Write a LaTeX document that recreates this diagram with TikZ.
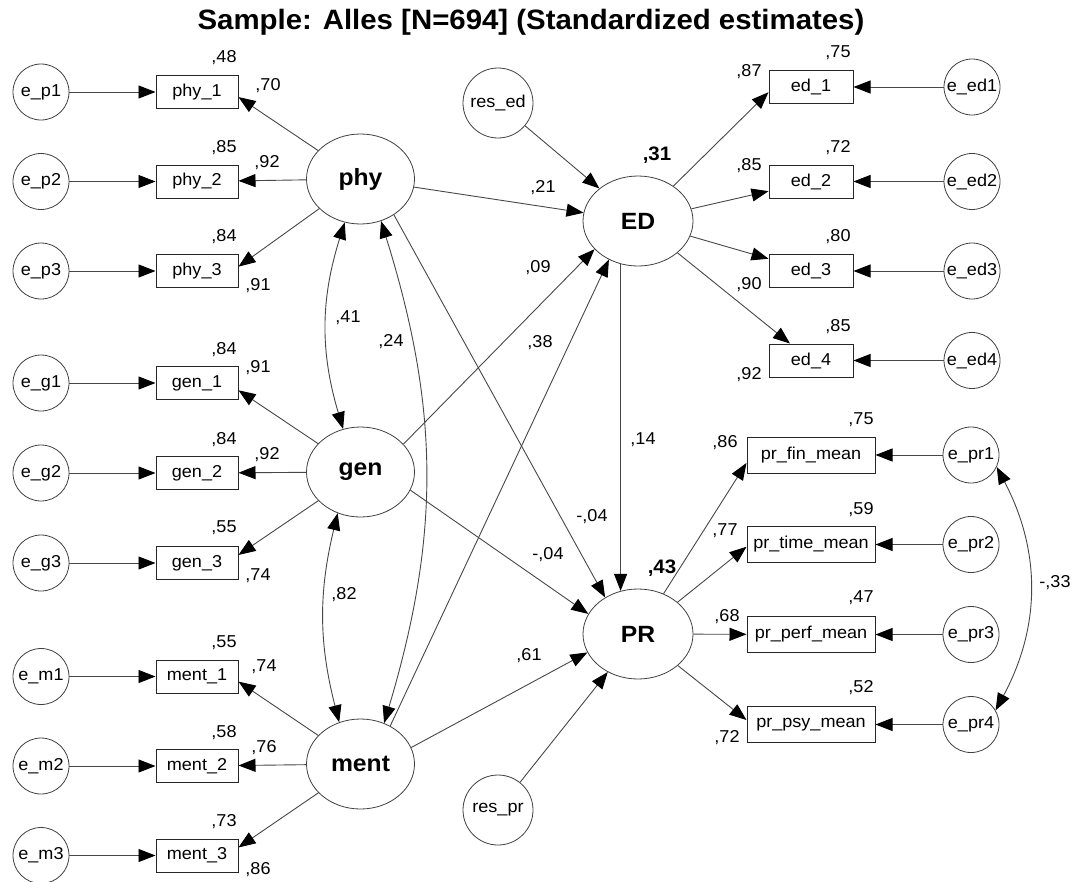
\documentclass[tikz,border=0pt]{standalone}
\usepackage{fontspec}
\setmainfont[FakeStretch=1.05]{Liberation Sans}
\usetikzlibrary{arrows.meta,shapes.geometric}
\begin{document}
\begin{tikzpicture}[x=1pt,y=-1pt,
  every node/.style={font=\fontsize{17.2}{19}\selectfont},
  tipx/.tip={Triangle[length=17pt,width=13pt,black]},
  lnk/.style={draw=black!72, line width=0.9pt, -tipx},
  cov/.style={draw=black!72, line width=0.9pt, tipx-tipx},
  obs/.style={draw=black!85, line width=1pt, rectangle, minimum width=82pt, minimum height=33pt, inner sep=0pt},
  obsr/.style={obs, minimum width=84pt},
  obsw/.style={obs, minimum width=128pt, minimum height=36pt},
  err/.style={draw=black!75, line width=0.8pt, circle, minimum size=56pt, inner sep=0pt},
  res/.style={err, minimum size=70pt},
  lat/.style={draw=black!75, line width=0.8pt, ellipse, minimum width=108pt, minimum height=90pt, inner sep=0pt, font=\fontsize{23.5}{27}\selectfont\bfseries},
  latr/.style={lat, minimum width=110pt},
  lbl/.style={inner sep=0pt},
  rsq/.style={inner sep=0pt, font=\fontsize{19.5}{23}\selectfont\bfseries}
]
\useasboundingbox (0,0) rectangle (1075,881);

\node[lbl, font=\fontsize{28}{31}\selectfont\bfseries] (title) at (531,22) {Sample: Alles [N=694] (Standardized estimates)};

% left error circles
\node[err] (ep1) at (41,92) {e\_p1};
\node[err] (ep2) at (41,181.5) {e\_p2};
\node[err] (ep3) at (41,271) {e\_p3};
\node[err] (eg1) at (41,383) {e\_g1};
\node[err] (eg2) at (41,473) {e\_g2};
\node[err] (eg3) at (41,563) {e\_g3};
\node[err] (em1) at (41,676.5) {e\_m1};
\node[err] (em2) at (41,766) {e\_m2};
\node[err] (em3) at (41,855.5) {e\_m3};

% left indicators
\node[obs] (phy1) at (197,92) {phy\_1};
\node[obs] (phy2) at (197,181.5) {phy\_2};
\node[obs] (phy3) at (197,271) {phy\_3};
\node[obs] (gen1) at (197,383) {gen\_1};
\node[obs] (gen2) at (197,473) {gen\_2};
\node[obs] (gen3) at (197,563) {gen\_3};
\node[obs] (ment1) at (197,676.5) {ment\_1};
\node[obs] (ment2) at (197,766) {ment\_2};
\node[obs] (ment3) at (197,855.5) {ment\_3};

% latent
\node[lat] (phy) at (360.5,179) {phy};
\node[lat] (gen) at (360.5,472) {gen};
\node[lat] (ment) at (360.5,764) {ment};
\node[latr] (ED) at (638,221) {ED};
\node[latr] (PR) at (638,634) {PR};
\node[res] (resed) at (498,103) {res\_ed};
\node[res] (respr) at (498,810) {res\_pr};

% right indicators
\node[obsr] (ed1) at (811,87) {ed\_1};
\node[obsr] (ed2) at (811,181.5) {ed\_2};
\node[obsr] (ed3) at (811,271) {ed\_3};
\node[obsr] (ed4) at (811,360.5) {ed\_4};
\node[obsw] (prfin) at (811,455) {pr\_fin\_mean};
\node[obsw] (prtime) at (811,544.5) {pr\_time\_mean};
\node[obsw] (prperf) at (811,634.5) {pr\_perf\_mean};
\node[obsw] (prpsy) at (811,724.5) {pr\_psy\_mean};

\node[err] (eed1) at (972,87) {e\_ed1};
\node[err] (eed2) at (972,181.5) {e\_ed2};
\node[err] (eed3) at (972,271) {e\_ed3};
\node[err] (eed4) at (972,360.5) {e\_ed4};
\node[err] (epr1) at (971,455) {e\_pr1};
\node[err] (epr2) at (971,544.5) {e\_pr2};
\node[err] (epr3) at (971,634.5) {e\_pr3};
\node[err] (epr4) at (971,724.5) {e\_pr4};

% error -> indicator
\foreach \a/\b in {ep1/phy1,ep2/phy2,ep3/phy3,eg1/gen1,eg2/gen2,eg3/gen3,em1/ment1,em2/ment2,em3/ment3,
  eed1/ed1,eed2/ed2,eed3/ed3,eed4/ed4,epr1/prfin,epr2/prtime,epr3/prperf,epr4/prpsy}
  \draw[lnk] (\a) -- (\b);

% loadings
\draw[lnk] (phy) -- (phy1.-7);
\draw[lnk] (phy) -- (phy2);
\draw[lnk] (phy) -- (phy3.6);
\draw[lnk] (gen) -- (gen1.-10);
\draw[lnk] (gen) -- (gen2);
\draw[lnk] (gen) -- (gen3.11);
\draw[lnk] (ment) -- (ment1.-7);
\draw[lnk] (ment) -- (ment2);
\draw[lnk] (ment) -- (ment3.11);
\draw[lnk] (ED) -- (ed1.187);
\draw[lnk] (ED) -- (ed2);
\draw[lnk] (ED) -- (ed3);
\draw[lnk] (ED) -- (ed4);
\draw[lnk] (PR) -- (prfin.187);
\draw[lnk] (PR) -- (prtime.182);
\draw[lnk] (PR) -- (prperf);
\draw[lnk] (PR) -- (prpsy.176);

% structural paths
\draw[lnk] (resed) -- (ED);
\draw[lnk] (phy) -- (ED);
\draw[lnk] (gen.33) -- (ED.213);
\draw[lnk] (ment.52) -- (ED.233);
\draw[lnk] (phy.313) -- (PR.132);
\draw[lnk] (gen.340) -- (PR.158);
\draw[lnk] (ment.18) -- (PR.200);
\draw[lnk] (respr) -- (PR);
\draw[lnk] (ED.248) -- (PR.112);

% covariances
\draw[cov] (phy.250) to[bend right=17] (gen.112);
\draw[cov] (gen.241) to[bend right=14] (ment.117);
\draw[cov] (phy.296) to[bend left=17] (ment.60);
\draw[cov] (epr1.-25) to[bend left=28] (epr4.30);

% coefficient labels
\node[lbl] (l1) at (224,58) {,48};
\node[lbl] (l2) at (268,86) {,70};
\node[lbl] (l3) at (224,148) {,85};
\node[lbl] (l4) at (267,163) {,92};
\node[lbl] (l5) at (224,237) {,84};
\node[lbl] (l6) at (258,286) {,91};
\node[lbl] (l7) at (224,350) {,84};
\node[lbl] (l8) at (258,368) {,91};
\node[lbl] (l9) at (224,440) {,84};
\node[lbl] (l10) at (267,455) {,92};
\node[lbl] (l11) at (224,528) {,55};
\node[lbl] (l12) at (258,576) {,74};
\node[lbl] (l13) at (224,643) {,55};
\node[lbl] (l14) at (264,667) {,74};
\node[lbl] (l15) at (224,733) {,58};
\node[lbl] (l16) at (264,748) {,76};
\node[lbl] (l17) at (224,822) {,73};
\node[lbl] (l18) at (258,870) {,86};
\node[lbl] (l19) at (348,318) {,41};
\node[lbl] (l20) at (391,342) {,24};
\node[lbl] (l21) at (344,595) {,82};
\node[lbl] (l22) at (543,188) {,21};
\node[lbl] (l23) at (538,268) {,09};
\node[lbl] (l24) at (540,343) {,38};
\node[lbl] (l25) at (592,517) {-,04};
\node[lbl] (l26) at (548,555) {-,04};
\node[lbl] (l27) at (529,656) {,61};
\node[lbl] (l28) at (643,440) {,14};
\node[rsq] (l29) at (657,155) {,31};
\node[rsq] (l30) at (662,568) {,43};
\node[lbl] (l31) at (749,72) {,87};
\node[lbl] (l32) at (838,53) {,75};
\node[lbl] (l33) at (749,166) {,85};
\node[lbl] (l34) at (838,148) {,72};
\node[lbl] (l35) at (838,237) {,80};
\node[lbl] (l36) at (749,285) {,90};
\node[lbl] (l37) at (838,327) {,85};
\node[lbl] (l38) at (749,375) {,92};
\node[lbl] (l39) at (861,420) {,75};
\node[lbl] (l40) at (725,443) {,86};
\node[lbl] (l41) at (861,510) {,59};
\node[lbl] (l42) at (725,531) {,77};
\node[lbl] (l43) at (861,598) {,47};
\node[lbl] (l44) at (727,617) {,68};
\node[lbl] (l45) at (861,688) {,52};
\node[lbl] (l46) at (727,738) {,72};
\node[lbl] (l47) at (1055,583) {-,33};
\end{tikzpicture}
\end{document}
